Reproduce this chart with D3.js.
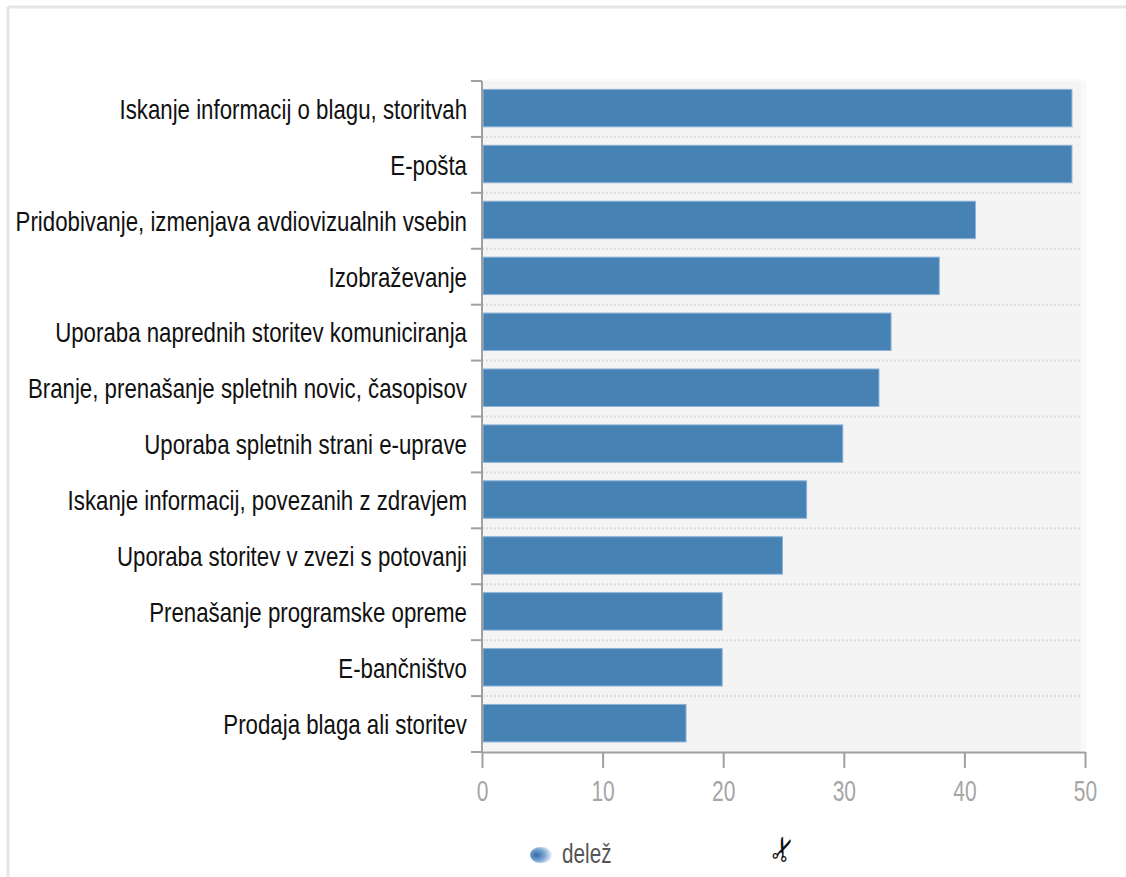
<!DOCTYPE html>
<html>
<head>
<meta charset="utf-8">
<script src="https://cdn.jsdelivr.net/npm/d3@7"></script>
<style>
  body { margin: 0; background: #fff; }
  svg { display: block; }
</style>
</head>
<body>
<svg id="chart" width="1126" height="877"></svg>
<script>
// categories, top to bottom
var categories = [
  "Iskanje informacij o blagu, storitvah",
  "E-pošta",
  "Pridobivanje, izmenjava avdiovizualnih vsebin",
  "Izobraževanje",
  "Uporaba naprednih storitev komuniciranja",
  "Branje, prenašanje spletnih novic, časopisov",
  "Uporaba spletnih strani e-uprave",
  "Iskanje informacij, povezanih z zdravjem",
  "Uporaba storitev v zvezi s potovanji",
  "Prenašanje programske opreme",
  "E-bančništvo",
  "Prodaja blaga ali storitev"
];
// share in %
var delez = [49, 49, 41, 38, 34, 33, 30, 27, 25, 20, 20, 17];
var xTicks = [0, 10, 20, 30, 40, 50];
var seriesName = "delež";

var svg = d3.select("#chart");

// note: "top" is taken by window.top, so plot edges get their own names
var plotLeft = 482, plotRight = 1085, plotTop = 81, plotBottom = 752;

var x = d3.scaleLinear().domain([0, 50]).range([plotLeft, plotRight]);
var y = d3.scaleBand().domain(categories).range([plotTop, plotBottom]).padding(0);

// frame round the whole thing
svg.append("line").attr("x1", 8).attr("x2", 1126).attr("y1", 7).attr("y2", 7)
  .style("stroke", "#e6e6e6").style("stroke-width", 3);
svg.append("line").attr("x1", 8).attr("x2", 8).attr("y1", 7).attr("y2", 877)
  .style("stroke", "#e6e6e6").style("stroke-width", 3);

// plot background, faint shadow first
svg.append("rect")
  .attr("x", plotLeft).attr("y", plotTop - 2)
  .attr("width", plotRight - plotLeft + 2).attr("height", plotBottom - plotTop + 2)
  .attr("rx", 7)
  .style("fill", "#f9f9f9");
svg.append("rect")
  .attr("x", plotLeft).attr("y", plotTop)
  .attr("width", plotRight - plotLeft - 4).attr("height", plotBottom - plotTop)
  .attr("rx", 5)
  .style("fill", "#f4f4f4");

// dotted grid between bands
svg.append("g").selectAll("line")
  .data(categories.slice(1))
  .join("line")
  .attr("x1", plotLeft).attr("x2", plotRight - 4)
  .attr("y1", function(d) { return y(d); })
  .attr("y2", function(d) { return y(d); })
  .style("stroke", "#dcdcdc")
  .style("stroke-width", 2)
  .style("stroke-dasharray", "2,2");

// bars
svg.append("g").selectAll("rect")
  .data(categories)
  .join("rect")
  .attr("x", x(0) + 1)
  .attr("y", function(d) { return y(d) + y.bandwidth() * 0.15; })
  .attr("width", function(d, i) { return x(delez[i]) - x(0) - 2; })
  .attr("height", y.bandwidth() * 0.67)
  .style("fill", "#4682b4")
  .style("stroke", "#8db2d6")
  .style("stroke-width", 1);

// y axis: labels at band centres, ticks at band edges
var yAxis = svg.append("g")
  .attr("transform", "translate(" + plotLeft + ",0)")
  .call(d3.axisLeft(y).tickSize(0).tickPadding(0));
yAxis.select(".domain").remove();
yAxis.selectAll("text")
  .attr("x", 0).attr("dy", "0.35em")
  .attr("transform", "translate(-15,0) scale(0.795,1)")
  .style("font-family", "'Liberation Sans', Arial, sans-serif")
  .style("font-size", "28px")
  .style("fill", "#111");

svg.append("line")
  .attr("x1", plotLeft).attr("x2", plotLeft).attr("y1", plotTop).attr("y2", plotBottom)
  .style("stroke", "#a0a0a0").style("stroke-width", 2);
svg.append("g").selectAll("line")
  .data(y.domain().map(function(d) { return y(d); }).concat([y.range()[1]]))
  .join("line")
  .attr("x1", plotLeft - 11).attr("x2", plotLeft)
  .attr("y1", function(d) { return d; }).attr("y2", function(d) { return d; })
  .style("stroke", "#a0a0a0").style("stroke-width", 2);

// x axis
var xAxis = svg.append("g")
  .attr("transform", "translate(0," + plotBottom + ")")
  .call(d3.axisBottom(x).tickValues(xTicks).tickSize(16).tickSizeOuter(0).tickPadding(0));
xAxis.select(".domain").style("stroke", "#a0a0a0").style("stroke-width", 2);
xAxis.selectAll(".tick line").style("stroke", "#a0a0a0").style("stroke-width", 2);
xAxis.selectAll("text")
  .attr("y", 0).attr("dy", 0)
  .attr("transform", "translate(0,49) scale(0.7,1)")
  .style("font-family", "'Liberation Sans', Arial, sans-serif")
  .style("font-size", "30px")
  .style("fill", "#a6a6a6");

// legend
var defs = svg.append("defs");
var grad = defs.append("radialGradient").attr("id", "legGrad")
  .attr("cx", "30%").attr("cy", "50%").attr("r", "70%");
grad.append("stop").attr("offset", "0%").attr("stop-color", "#2f6aa8");
grad.append("stop").attr("offset", "55%").attr("stop-color", "#7fa9d4");
grad.append("stop").attr("offset", "100%").attr("stop-color", "#eef3f8");

var legend = svg.append("g").attr("transform", "translate(541,855)");
legend.append("ellipse").attr("rx", 11).attr("ry", 8)
  .style("fill", "url(#legGrad)");
legend.append("text")
  .attr("transform", "translate(21,8) scale(0.74,1)")
  .style("font-family", "'Liberation Sans', Arial, sans-serif")
  .style("font-size", "28px")
  .style("fill", "#555")
  .text(seriesName);

svg.append("text")
  .attr("transform", "translate(783,849) rotate(-70)")
  .attr("text-anchor", "middle").attr("dy", "0.35em")
  .style("font-family", "'DejaVu Sans', sans-serif")
  .style("font-size", "32px")
  .style("font-weight", "bold")
  .style("fill", "#111")
  .text("\u2702");
</script>
</body>
</html>
